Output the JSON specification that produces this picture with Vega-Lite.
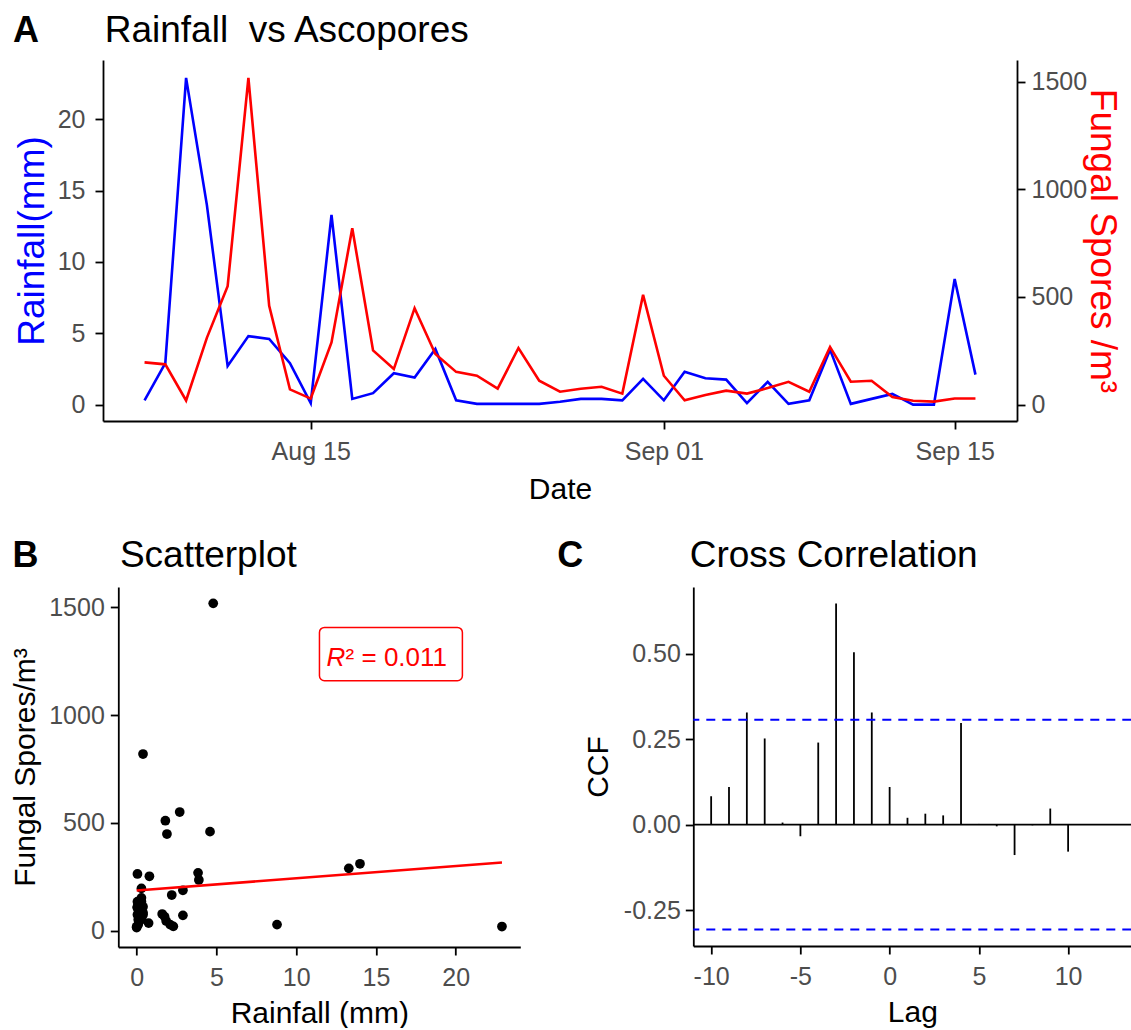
{
  "$schema": "https://vega.github.io/schema/vega-lite/v6.json",
  "padding": {"left": 10, "top": 12, "right": 0, "bottom": 0},
  "background": "white",
  "config": {
    "view": {"stroke": null},
    "font": "Liberation Sans",
    "axis": {
      "domainColor": "black", "domainWidth": 1.8, "tickColor": "black", "tickWidth": 1.8, "tickSize": 8,
      "labelFont": "Liberation Sans", "labelFontSize": 25, "labelColor": "#4d4d4d", "labelPadding": 6,
      "titleFont": "Liberation Sans", "titleFontSize": 30, "titleFontWeight": "normal", "titleColor": "black",
      "grid": false, "labelFlush": false, "labelOverlap": false, "labelBound": false
    },
    "text": {"font": "Liberation Sans"}
  },
  "datasets": {
    "series": [
      {"date": "2021-08-07", "rain": 0.3, "spores": 196},
      {"date": "2021-08-08", "rain": 2.9, "spores": 187},
      {"date": "2021-08-09", "rain": 22.9, "spores": 19},
      {"date": "2021-08-10", "rain": 14.0, "spores": 310},
      {"date": "2021-08-11", "rain": 2.7, "spores": 550},
      {"date": "2021-08-12", "rain": 4.8, "spores": 1518},
      {"date": "2021-08-13", "rain": 4.6, "spores": 459},
      {"date": "2021-08-14", "rain": 2.9, "spores": 71},
      {"date": "2021-08-15", "rain": 0.1, "spores": 28},
      {"date": "2021-08-16", "rain": 13.3, "spores": 289},
      {"date": "2021-08-17", "rain": 0.4, "spores": 819},
      {"date": "2021-08-18", "rain": 0.8, "spores": 252},
      {"date": "2021-08-19", "rain": 2.2, "spores": 165},
      {"date": "2021-08-20", "rain": 1.9, "spores": 448},
      {"date": "2021-08-21", "rain": 3.9, "spores": 235},
      {"date": "2021-08-22", "rain": 0.3, "spores": 152},
      {"date": "2021-08-23", "rain": 0.05, "spores": 134},
      {"date": "2021-08-24", "rain": 0.05, "spores": 74},
      {"date": "2021-08-25", "rain": 0.05, "spores": 263},
      {"date": "2021-08-26", "rain": 0.05, "spores": 111},
      {"date": "2021-08-27", "rain": 0.2, "spores": 60},
      {"date": "2021-08-28", "rain": 0.4, "spores": 74},
      {"date": "2021-08-29", "rain": 0.4, "spores": 83},
      {"date": "2021-08-30", "rain": 0.3, "spores": 51},
      {"date": "2021-08-31", "rain": 1.8, "spores": 510},
      {"date": "2021-09-01", "rain": 0.3, "spores": 134},
      {"date": "2021-09-02", "rain": 2.3, "spores": 20},
      {"date": "2021-09-03", "rain": 1.85, "spores": 45},
      {"date": "2021-09-04", "rain": 1.75, "spores": 65},
      {"date": "2021-09-05", "rain": 0.1, "spores": 51},
      {"date": "2021-09-06", "rain": 1.6, "spores": 77},
      {"date": "2021-09-07", "rain": 0.05, "spores": 106},
      {"date": "2021-09-08", "rain": 0.3, "spores": 60},
      {"date": "2021-09-09", "rain": 3.85, "spores": 268},
      {"date": "2021-09-10", "rain": 0.05, "spores": 106},
      {"date": "2021-09-11", "rain": 0.4, "spores": 111},
      {"date": "2021-09-12", "rain": 0.75, "spores": 35},
      {"date": "2021-09-13", "rain": 0.0, "spores": 18},
      {"date": "2021-09-14", "rain": 0.0, "spores": 14},
      {"date": "2021-09-15", "rain": 8.8, "spores": 28},
      {"date": "2021-09-16", "rain": 2.1, "spores": 28}
    ],
    "ccf": [
      {"lag": -10, "ccf": 0.083}, {"lag": -9, "ccf": 0.110}, {"lag": -8, "ccf": 0.328},
      {"lag": -7, "ccf": 0.252}, {"lag": -6, "ccf": 0.006}, {"lag": -5, "ccf": -0.034},
      {"lag": -4, "ccf": 0.240}, {"lag": -3, "ccf": 0.647}, {"lag": -2, "ccf": 0.504},
      {"lag": -1, "ccf": 0.328}, {"lag": 0, "ccf": 0.110}, {"lag": 1, "ccf": 0.020},
      {"lag": 2, "ccf": 0.032}, {"lag": 3, "ccf": 0.027}, {"lag": 4, "ccf": 0.297},
      {"lag": 5, "ccf": 0.002}, {"lag": 6, "ccf": -0.005}, {"lag": 7, "ccf": -0.089},
      {"lag": 8, "ccf": -0.002}, {"lag": 9, "ccf": 0.047}, {"lag": 10, "ccf": -0.079}
    ]
  },
  "spacing": 32,
  "vconcat": [
    {
      "width": 914,
      "height": 361,
      "layer": [
        {
          "layer": [
            {
              "data": {"name": "series"},
              "mark": {"type": "line", "color": "#0000ff", "strokeWidth": 2.6},
              "encoding": {
                "x": {
                  "field": "date", "type": "temporal",
                  "scale": {"type": "utc", "nice": false, "domain": [{"year": 2021, "month": 8, "date": 5, "utc": true}, {"year": 2021, "month": 9, "date": 18, "utc": true}]},
                  "axis": {
                    "title": "Date", "format": "%b %d", "labelPadding": 10, "titlePadding": 10,
                    "values": [{"year": 2021, "month": 8, "date": 15, "utc": true}, {"year": 2021, "month": 9, "date": 1, "utc": true}, {"year": 2021, "month": 9, "date": 15, "utc": true}]
                  }
                },
                "y": {
                  "field": "rain", "type": "quantitative",
                  "scale": {"domain": [-1.15, 24.15], "nice": false, "zero": false},
                  "axis": {"title": "Rainfall(mm)", "titleColor": "#0000ff", "titleFontSize": 37, "values": [0, 5, 10, 15, 20], "labelPadding": 10, "titlePadding": 6}
                }
              }
            },
            {
              "data": {"values": [{"t": "A"}]},
              "mark": {"type": "text", "fontSize": 36, "fontWeight": "bold", "align": "left", "baseline": "alphabetic", "color": "black"},
              "encoding": {
                "x": {"datum": {"year": 2021, "month": 7, "date": 31, "hours": 16, "utc": true}, "type": "temporal", "scale": {"type": "utc", "nice": false, "domain": [{"year": 2021, "month": 8, "date": 5, "utc": true}, {"year": 2021, "month": 9, "date": 18, "utc": true}]}},
                "y": {"datum": 25.4, "type": "quantitative", "scale": {"domain": [-1.15, 24.15], "nice": false, "zero": false}},
                "text": {"field": "t"}
              }
            },
            {
              "data": {"values": [{"t": "Rainfall\u00a0 vs Ascopores"}]},
              "mark": {"type": "text", "fontSize": 37, "align": "left", "baseline": "alphabetic", "color": "black"},
              "encoding": {
                "x": {"datum": {"year": 2021, "month": 8, "date": 5, "hours": 2, "utc": true}, "type": "temporal", "scale": {"type": "utc", "nice": false, "domain": [{"year": 2021, "month": 8, "date": 5, "utc": true}, {"year": 2021, "month": 9, "date": 18, "utc": true}]}},
                "y": {"datum": 25.4, "type": "quantitative", "scale": {"domain": [-1.15, 24.15], "nice": false, "zero": false}},
                "text": {"field": "t"}
              }
            }
          ]
        },
        {
          "data": {"name": "series"},
          "mark": {"type": "line", "color": "#ff0000", "strokeWidth": 2.6},
          "encoding": {
            "x": {"field": "date", "type": "temporal", "scale": {"type": "utc", "nice": false, "domain": [{"year": 2021, "month": 8, "date": 5, "utc": true}, {"year": 2021, "month": 9, "date": 18, "utc": true}]}},
            "y": {
              "field": "spores", "type": "quantitative",
              "scale": {"domain": [-76.2, 1601.1], "nice": false, "zero": false},
              "axis": {"orient": "right", "title": "Fungal Spores /m³", "titleColor": "#ff0000", "titleFontSize": 37, "titleAngle": 90, "titleBaseline": "bottom", "values": [0, 500, 1000, 1500], "format": "d", "labelPadding": 6, "titlePadding": -4}
            }
          }
        }
      ],
      "resolve": {"scale": {"y": "independent"}}
    },
    {
      "spacing": -93.7,
      "hconcat": [
        {
          "width": 1,
          "height": 1,
          "data": {"values": []},
          "mark": "point",
          "encoding": {}
        },
        {
          "spacing": 36,
          "hconcat": [
            {
              "width": 402,
              "height": 360,
              "layer": [
                {
                  "data": {"name": "series"},
                  "mark": {"type": "circle", "size": 95, "color": "black", "opacity": 1},
                  "encoding": {
                    "x": {"field": "rain", "type": "quantitative", "scale": {"domain": [-1.15, 24.05], "nice": false, "zero": false}, "axis": {"title": "Rainfall (mm)", "values": [0, 5, 10, 15, 20], "labelPadding": 10, "titlePadding": 8}},
                    "y": {"field": "spores", "type": "quantitative", "scale": {"domain": [-75.9, 1593.9], "nice": false, "zero": false}, "axis": {"title": "Fungal Spores/m³", "values": [0, 500, 1000, 1500], "format": "d", "labelPadding": 6, "titlePadding": 8}}
                  }
                },
                {
                  "data": {"name": "series"},
                  "transform": [{"regression": "spores", "on": "rain"}],
                  "mark": {"type": "line", "color": "#ff0000", "strokeWidth": 2.6},
                  "encoding": {
                    "x": {"field": "rain", "type": "quantitative", "scale": {"domain": [-1.15, 24.05], "nice": false, "zero": false}},
                    "y": {"field": "spores", "type": "quantitative", "scale": {"domain": [-75.9, 1593.9], "nice": false, "zero": false}}
                  }
                },
                {
                  "data": {"values": [{}]},
                  "mark": {"type": "rect", "fill": "white", "stroke": "#ff0000", "strokeWidth": 1.5, "cornerRadius": 5},
                  "encoding": {
                    "x": {"datum": 11.46, "type": "quantitative", "scale": {"domain": [-1.15, 24.05], "nice": false, "zero": false}},
                    "x2": {"datum": 20.42},
                    "y": {"datum": 1406.6, "type": "quantitative", "scale": {"domain": [-75.9, 1593.9], "nice": false, "zero": false}},
                    "y2": {"datum": 1159}
                  }
                },
                {
                  "data": {"values": [{"t": "R"}]},
                  "mark": {"type": "text", "fontSize": 26, "fontStyle": "italic", "align": "left", "baseline": "alphabetic", "color": "#ff0000"},
                  "encoding": {
                    "x": {"datum": 11.9, "type": "quantitative", "scale": {"domain": [-1.15, 24.05], "nice": false, "zero": false}},
                    "y": {"datum": 1225.7, "type": "quantitative", "scale": {"domain": [-75.9, 1593.9], "nice": false, "zero": false}},
                    "text": {"field": "t"}
                  }
                },
                {
                  "data": {"values": [{"t": "² = 0.011"}]},
                  "mark": {"type": "text", "fontSize": 26, "align": "left", "baseline": "alphabetic", "color": "#ff0000"},
                  "encoding": {
                    "x": {"datum": 13.1, "type": "quantitative", "scale": {"domain": [-1.15, 24.05], "nice": false, "zero": false}},
                    "y": {"datum": 1225.7, "type": "quantitative", "scale": {"domain": [-75.9, 1593.9], "nice": false, "zero": false}},
                    "text": {"field": "t"}
                  }
                },
                {
                  "data": {"values": [{"t": "B"}]},
                  "mark": {"type": "text", "fontSize": 36, "fontWeight": "bold", "align": "left", "baseline": "alphabetic", "color": "black"},
                  "encoding": {
                    "x": {"datum": -7.78, "type": "quantitative", "scale": {"domain": [-1.15, 24.05], "nice": false, "zero": false}},
                    "y": {"datum": 1686, "type": "quantitative", "scale": {"domain": [-75.9, 1593.9], "nice": false, "zero": false}},
                    "text": {"field": "t"}
                  }
                },
                {
                  "data": {"values": [{"t": "Scatterplot"}]},
                  "mark": {"type": "text", "fontSize": 37, "align": "left", "baseline": "alphabetic", "color": "black"},
                  "encoding": {
                    "x": {"datum": -1.05, "type": "quantitative", "scale": {"domain": [-1.15, 24.05], "nice": false, "zero": false}},
                    "y": {"datum": 1686, "type": "quantitative", "scale": {"domain": [-75.9, 1593.9], "nice": false, "zero": false}},
                    "text": {"field": "t"}
                  }
                }
              ]
            },
            {
              "width": 438,
              "height": 359,
              "layer": [
                {
                  "data": {"name": "ccf"},
                  "mark": {"type": "rule", "color": "black", "strokeWidth": 1.8},
                  "encoding": {
                    "x": {"field": "lag", "type": "quantitative", "scale": {"domain": [-11, 13.54], "nice": false, "zero": false}, "axis": {"title": "Lag", "values": [-10, -5, 0, 5, 10], "labelExpr": "replace(datum.label, '−', '-')", "labelPadding": 10, "titlePadding": 8}},
                    "y": {"field": "ccf", "type": "quantitative", "scale": {"domain": [-0.355, 0.695], "nice": false, "zero": false}, "axis": {"title": "CCF", "values": [-0.25, 0, 0.25, 0.5], "format": ".2f", "labelExpr": "replace(datum.label, '−', '-')", "labelPadding": 5, "titlePadding": 10}},
                    "y2": {"datum": 0}
                  }
                },
                {
                  "data": {"values": [{}]},
                  "mark": {"type": "rule", "color": "black", "strokeWidth": 1.8},
                  "encoding": {"y": {"datum": 0, "type": "quantitative", "scale": {"domain": [-0.355, 0.695], "nice": false, "zero": false}}}
                },
                {
                  "data": {"values": [{"v": 0.307}, {"v": -0.307}]},
                  "mark": {"type": "rule", "color": "#0000ff", "strokeWidth": 2, "strokeDash": [9, 7]},
                  "encoding": {"y": {"field": "v", "type": "quantitative", "scale": {"domain": [-0.355, 0.695], "nice": false, "zero": false}}}
                },
                {
                  "data": {"values": [{"t": "C"}]},
                  "mark": {"type": "text", "fontSize": 36, "fontWeight": "bold", "align": "left", "baseline": "alphabetic", "color": "black"},
                  "encoding": {
                    "x": {"datum": -18.62, "type": "quantitative", "scale": {"domain": [-11, 13.54], "nice": false, "zero": false}},
                    "y": {"datum": 0.7535, "type": "quantitative", "scale": {"domain": [-0.355, 0.695], "nice": false, "zero": false}},
                    "text": {"field": "t"}
                  }
                },
                {
                  "data": {"values": [{"t": "Cross Correlation"}]},
                  "mark": {"type": "text", "fontSize": 37, "align": "left", "baseline": "alphabetic", "color": "black"},
                  "encoding": {
                    "x": {"datum": -11.2, "type": "quantitative", "scale": {"domain": [-11, 13.54], "nice": false, "zero": false}},
                    "y": {"datum": 0.7535, "type": "quantitative", "scale": {"domain": [-0.355, 0.695], "nice": false, "zero": false}},
                    "text": {"field": "t"}
                  }
                }
              ]
            }
          ]
        }
      ]
    }
  ]
}
